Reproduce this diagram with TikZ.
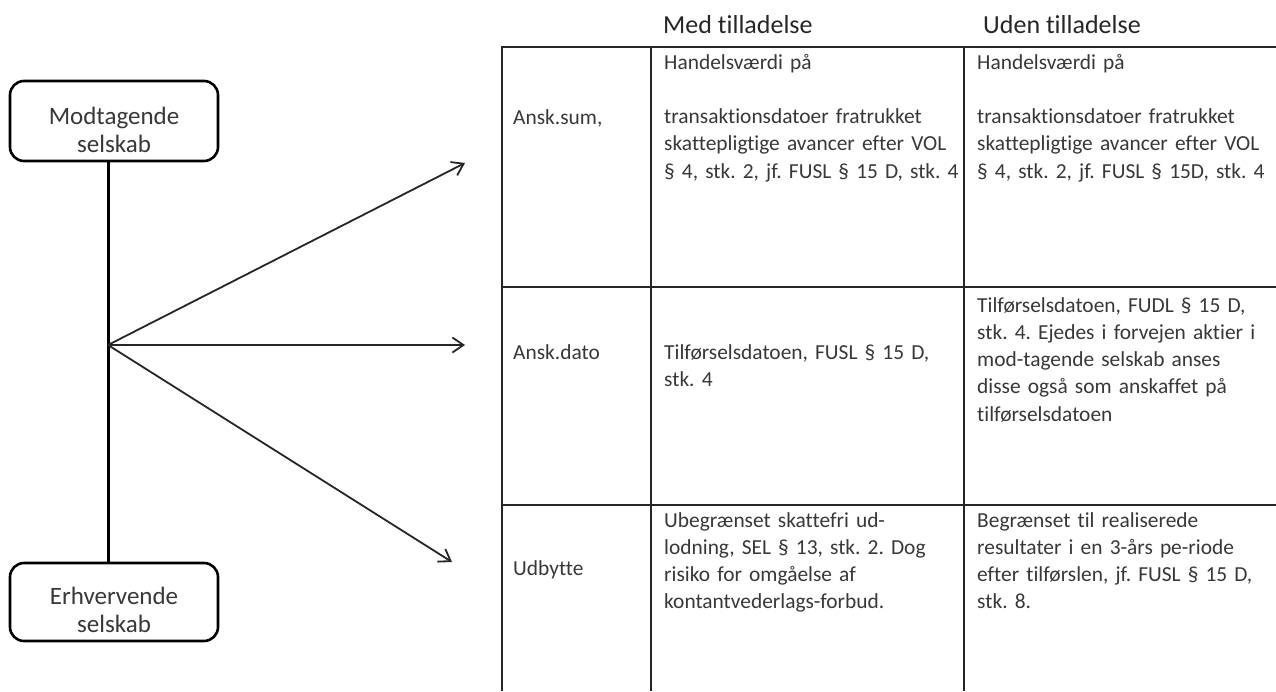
\documentclass[tikz,border=0pt]{standalone}
\usepackage{fontspec}
\setmainfont{Carlito}[Ligatures=NoCommon]
\usetikzlibrary{arrows.meta}
\definecolor{txt}{HTML}{383838}
\definecolor{rulecol}{HTML}{262626}
\frenchspacing

\begin{document}
\begin{tikzpicture}[x=1pt,y=-1pt,
  company/.style={draw=black, line width=2.6pt, rounded corners=14pt,
    minimum width=208pt, minimum height=80pt, inner sep=0pt},
  boxtext/.style={anchor=base, inner sep=0pt, text width=208pt, align=center,
    font=\fontsize{25}{28}\selectfont, text=txt},
  cell/.style={anchor=base west, inner sep=0pt, text width=320pt, align=left,
    font=\fontsize{21.4}{27.3}\selectfont, text=txt},
  rowlabel/.style={anchor=base west, inner sep=0pt,
    font=\fontsize{21.4}{27.3}\selectfont, text=txt},
  colhead/.style={anchor=base west, inner sep=0pt,
    font=\fontsize{26}{30}\selectfont, text=black!85},
  gridline/.style={draw=rulecol, line width=2.8pt},
  link/.style={draw=black!85, line width=1.8pt,
    -{Straight Barb[length=11pt,width=15pt,line width=1.8pt]}}
]
\useasboundingbox[fill=white] (0,0) rectangle (1276,691);

% the two companies and the line joining them
\node[company] (recv) at (114,121) {};
\node[boxtext] (recvtxt) at (114,124) {Modtagende\\selskab};
\node[company, minimum height=78pt] (acq) at (114,602) {};
\node[boxtext] (acqtxt) at (114,604) {Erhvervende\\selskab};

\coordinate (hub) at (108,345);
\draw[line width=3pt] (recv.south -| hub) -- (acq.north -| hub);

% arrows fanning out to the three rows
\coordinate (tipsum) at (465,163);
\coordinate (tipdato) at (465,345);
\coordinate (tipudb) at (452,562);
\draw[link] (hub) -- (tipsum);
\draw[link] (hub) -- (tipdato);
\draw[link] (hub) -- (tipudb);

% table rules
\draw[gridline] (1276,47) -- (502,47) -- (502,691);
\draw[gridline] (651,47) -- (651,691);
\draw[gridline] (964,47) -- (964,691);
\draw[gridline] (502,287) -- (1276,287);
\draw[gridline] (502,505) -- (1276,505);

% column headings
\node[colhead] (hmed) at (663,33) {Med tilladelse};
\node[colhead] (huden) at (983,33) {Uden tilladelse};

% row labels
\node[rowlabel] (rsum) at (513,124) {Ansk.sum,};
\node[rowlabel] (rdato) at (513,359) {Ansk.dato};
\node[rowlabel] (rudb) at (513,575) {Udbytte};

% row 1
\node[cell] (c11) at (664,69) {Handelsværdi på\\[27.3pt]
  transaktionsdatoer fratrukket\\
  skattepligtige avancer efter VOL\\
  § 4, stk. 2, jf. FUSL § 15 D, stk. 4};
\node[cell] (c12) at (977,69) {Handelsværdi på\\[27.3pt]
  transaktionsdatoer fratrukket\\
  skattepligtige avancer efter VOL\\
  § 4, stk. 2, jf. FUSL § 15D, stk. 4};

% row 2
\node[cell] (c21) at (664,359) {Tilførselsdatoen, FUSL § 15 D,\\
  stk. 4};
\node[cell] (c22) at (977,312) {Tilførselsdatoen, FUDL § 15 D,\\
  stk. 4. Ejedes i forvejen aktier i\\
  mod-tagende selskab anses\\
  disse også som anskaffet på\\
  tilførselsdatoen};

% row 3
\node[cell] (c31) at (664,527) {Ubegrænset skattefri ud-\\
  lodning, SEL § 13, stk. 2. Dog\\
  risiko for omgåelse af\\
  kontantvederlags-forbud.};
\node[cell] (c32) at (977,527) {Begrænset til realiserede\\
  resultater i en 3-års pe-riode\\
  efter tilførslen, jf. FUSL § 15 D,\\
  stk. 8.};
\end{tikzpicture}
\end{document}
